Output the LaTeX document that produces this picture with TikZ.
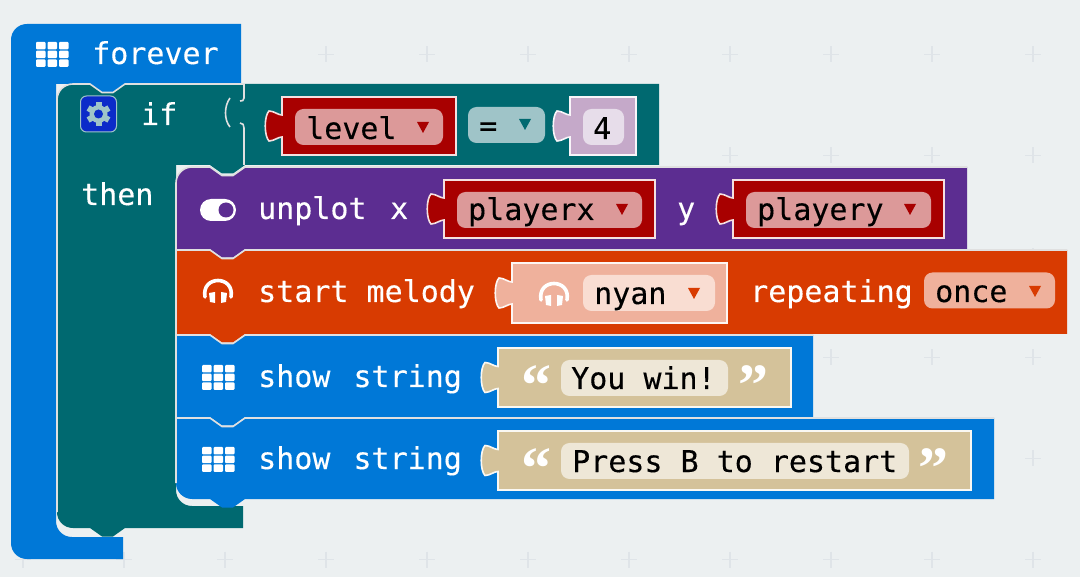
\documentclass[tikz,border=0pt]{standalone}
\usepackage{fontspec}
\setmonofont{DejaVu Sans Mono}[FakeBold=0.25]
\newfontfamily\quotefont{Liberation Serif}[BoldFont={Liberation Serif Bold}]

\definecolor{canvasBg}{HTML}{ECF0F1}
\definecolor{plusCol}{HTML}{DFE4E8}
\definecolor{basicBlue}{HTML}{0078D7}
\definecolor{logicTeal}{HTML}{006970}
\definecolor{ledPurple}{HTML}{5C2D91}
\definecolor{musicOrange}{HTML}{D83B01}
\definecolor{varRed}{HTML}{A80000}
\definecolor{varPill}{HTML}{DC9999}
\definecolor{eqPill}{HTML}{9FC4C8}
\definecolor{numBlock}{HTML}{C5A9C9}
\definecolor{numPill}{HTML}{E7DDEA}
\definecolor{melodyBlock}{HTML}{EFB19C}
\definecolor{melodyPill}{HTML}{F9DDD2}
\definecolor{strBlock}{HTML}{D4C29A}
\definecolor{strPill}{HTML}{EEE7D7}
\definecolor{gearBlue}{HTML}{0B2BC9}

\newcommand{\notchin}[2]{-- (#1,#2) -- ({#1+12},{#2+8.5}) -- ({#1+23},{#2+8.5}) -- ({#1+35},#2)}
\newcommand{\notchback}[2]{-- ({#1+35},#2) -- ({#1+23},{#2+8.5}) -- ({#1+12},{#2+8.5}) -- (#1,#2)}

%% colour, top, bottom, right, top radius, bottom radius
\newcommand{\stmtblock}[6]{
  \fill[#1] (176,{#2+#5}) .. controls (176,{#2+.45*#5}) and ({176+.45*#5},#2) .. ({176+#5},#2)
    \notchin{210}{#2} -- (#4,#2) -- (#4,#3) \notchback{210}{#3} -- ({176+#6},#3)
    .. controls ({176+.45*#6},#3) and (176,{#3-.45*#6}) .. (176,{#3-#6}) -- cycle;
  \draw[hilite] (176,{#3-#6}) -- (176,{#2+#5})
    .. controls (176,{#2+.45*#5}) and ({176+.45*#5},#2) .. ({176+#5},#2)
    \notchin{210}{#2} -- (#4,#2);
}
%% colour, left, top, right, bottom
\newcommand{\valblock}[5]{
  \draw[#1, fill=#1, draw=white!88!#1, line width=1.6pt]
    (#2,#3) -- (#4,#3) -- (#4,#5) -- (#2,#5) -- (#2,{(#3+#5)/2+11})
    .. controls ({#2-4},{(#3+#5)/2+11}) and ({#2-8},{(#3+#5)/2+15}) .. ({#2-13},{(#3+#5)/2+15})
    .. controls ({#2-18},{(#3+#5)/2+10}) and ({#2-18},{(#3+#5)/2-10}) .. ({#2-13},{(#3+#5)/2-15})
    .. controls ({#2-8},{(#3+#5)/2-15}) and ({#2-4},{(#3+#5)/2-11}) .. (#2,{(#3+#5)/2-11})
    -- cycle;
}
\newcommand{\gridicon}[2]{
  \foreach \cx in {0,11.5,23} \foreach \cy in {0,8.7,17.4}
    \fill[white, rounded corners=1pt] ({#1+\cx},{#2+\cy}) rectangle ++(9.5,7.4);
}
\newcommand{\phonesicon}[2]{
  \draw[white, line width=3.6pt, line cap=round]
    ({#1-13},{#2+4}) .. controls ({#1-17},{#2-18}) and ({#1+17},{#2-18}) .. ({#1+13},{#2+4});
  \fill[white] ({#1-9},{#2}) -- ({#1-3},{#2-1}) -- ({#1-3},{#2+10}) -- ({#1-8},{#2+9}) -- cycle;
  \fill[white] ({#1+9},{#2}) -- ({#1+3},{#2-1}) -- ({#1+3},{#2+10}) -- ({#1+8},{#2+9}) -- cycle;
}
\newcommand{\ddarrow}[3]{
  \fill[#3] ({#1-6},{#2-5}) -- ({#1+6},{#2-5}) -- (#1,{#2+6}) -- cycle;
}

\begin{document}
\begin{tikzpicture}[
    x=1pt, y=-1pt,
    hilite/.style={white!88!black, line width=1.6pt},
    lbl/.style={font=\ttfamily\fontsize{30}{30}\selectfont, text=white,
                anchor=base west, inner sep=0pt},
    fld/.style={lbl, text=black},
    pill/.style={rounded corners=8.5pt, minimum height=36pt, inner sep=0pt},
    quot/.style={font=\quotefont\bfseries\fontsize{60}{60}\selectfont, text=white,
                 inner sep=0pt},
  ]
  \useasboundingbox (0,0) rectangle (1080,577);
  \fill[canvasBg] (0,0) rectangle (1080,577);

  %% background crosses
  \foreach \px in {23,124,...,1033} \foreach \py in {54.5,155.5,...,560}
    \draw[plusCol, line width=1.2pt] (\px-8,\py) -- (\px+8,\py) (\px,\py-8) -- (\px,\py+8);

  %% ================================================================
  %% forever
  %% ================================================================
  \fill[basicBlue] (11,40) .. controls (11,31) and (18,24) .. (27,24) -- (241,24) -- (241,84)
    \notchback{90}{84} -- (56,84)
    -- (56,521) .. controls (56,530) and (63,537) .. (72,537) -- (123,537) -- (123,559) -- (27,559)
    .. controls (18,559) and (11,552) .. (11,543) -- cycle;
  \gridicon{36}{42}
  \node[lbl] (foreverLbl) at (92,64) {forever};

  %% ================================================================
  %% if / then
  %% ================================================================
  \fill[logicTeal] (57,100) .. controls (57,91) and (64,84) .. (73,84) \notchin{90}{84}
    -- (659,84) -- (659,165) \notchback{210}{165} -- (176,165)
    -- (176,490) .. controls (176,499) and (183,506) .. (192,506)
    -- (243,506) -- (243,528) \notchback{90}{528} -- (73,528)
    .. controls (64,528) and (57,521) .. (57,512) -- cycle;
  \draw[hilite] (57,512) -- (57,100) .. controls (57,91) and (64,84) .. (73,84) \notchin{90}{84}
    -- (244,84) -- (244,98) .. controls (244,101) and (242,101) .. (240,101);
  \draw[hilite] (240,123) .. controls (243,123) and (244,125) .. (244,128) -- (244,165);
  \draw[hilite] (230,98) .. controls (224,106) and (224,120) .. (230,127);

  \node[draw=eqPill, fill=gearBlue, line width=1pt, rounded corners=6pt, minimum size=36pt,
        inner sep=0pt] (gearBox) at (98.5,114) {};
  \foreach \ang in {0,60,...,300}
    \fill[eqPill, rotate around={\ang:(98.5,114)}] (95.5,102) rectangle (101.5,108);
  \fill[eqPill] (98.5,114) circle (9pt);
  \fill[gearBlue] (98.5,114) circle (4.5pt);
  \node[lbl] (ifLbl) at (141,125) {if};
  \node[lbl] (thenLbl) at (81,205) {then};

  %% level = 4
  \valblock{varRed}{282}{97}{456}{155}
  \node[pill, fill=varPill, minimum width=148pt] (levelPill) at (369,127) {};
  \node[fld] (levelTxt) at (306,139) {level};
  \ddarrow{423}{127}{varRed}
  \node[pill, fill=eqPill, minimum width=77pt] (eqPillBox) at (506.5,125) {};
  \node[fld] (eqTxt) at (479,136) {=};
  \ddarrow{525}{124}{logicTeal}
  \valblock{numBlock}{570}{97}{636}{155}
  \node[pill, fill=numPill, minimum width=41pt] (numPillBox) at (603.5,127) {};
  \node[fld] (numTxt) at (593,139) {4};

  %% ================================================================
  %% Stack inside then
  %% ================================================================
  \stmtblock{ledPurple}{167}{249}{967}{16}{0}
  \stmtblock{musicOrange}{250}{334}{1067}{0}{0}
  \stmtblock{basicBlue}{335}{417}{813}{0}{0}
  \stmtblock{basicBlue}{418}{499}{994}{0}{16}

  %% unplot
  \fill[white, rounded corners=11pt] (200,199) rectangle (236,221);
  \fill[ledPurple] (226,210) circle (7.5pt);
  \node[lbl] (unplotLbl) at (258,219) {unplot};
  \node[lbl] (xLbl) at (390,219) {x};
  \valblock{varRed}{444}{180}{655}{238}
  \node[pill, fill=varPill, minimum width=185pt] (playerxPill) at (549.5,210) {};
  \node[fld] (playerxTxt) at (468,220) {playerx};
  \ddarrow{622}{209}{varRed}
  \node[lbl] (yLbl) at (677,219) {y};
  \valblock{varRed}{733}{180}{944}{238}
  \node[pill, fill=varPill, minimum width=185pt] (playeryPill) at (838.5,210) {};
  \node[fld] (playeryTxt) at (757,220) {playery};
  \ddarrow{910}{209}{varRed}

  %% start melody
  \phonesicon{218}{293}
  \node[lbl] (melodyLbl) at (258,302) {start melody};
  \valblock{melodyBlock}{512}{263}{727}{323}
  \phonesicon{554}{296}
  \node[pill, fill=melodyPill, minimum width=132pt] (nyanPill) at (649,293) {};
  \node[fld] (nyanTxt) at (594,304) {nyan};
  \ddarrow{694}{293}{musicOrange}
  \node[lbl] (repeatLbl) at (750,302) {repeating};
  \node[pill, fill=melodyBlock, minimum width=131pt] (oncePill) at (989.5,290.5) {};
  \node[fld] (onceTxt) at (935,302) {once};
  \ddarrow{1035}{291}{musicOrange}

  %% show string, twice
  \gridicon{202}{365}
  \node[lbl] (showLbl) at (258,387) {show\hspace{5pt} string};
  \valblock{strBlock}{498}{348}{791}{407}
  \node[quot] (winOpen) at (536,386) {“};
  \node[pill, fill=strPill, minimum width=167pt] (winPill) at (644.5,378) {};
  \node[fld] (winTxt) at (571,389) {You win!};
  \node[quot] (winClose) at (753,386) {”};

  \gridicon{202}{447}
  \node[lbl] (showLblB) at (258,469) {show\hspace{5pt} string};
  \valblock{strBlock}{498}{431}{971}{490}
  \node[quot] (restartOpen) at (536,469) {“};
  \node[pill, fill=strPill, minimum width=348pt] (restartPill) at (735,461) {};
  \node[fld] (restartTxt) at (572,472) {Press B to restart};
  \node[quot] (restartClose) at (933,469) {”};

\end{tikzpicture}
\end{document}
